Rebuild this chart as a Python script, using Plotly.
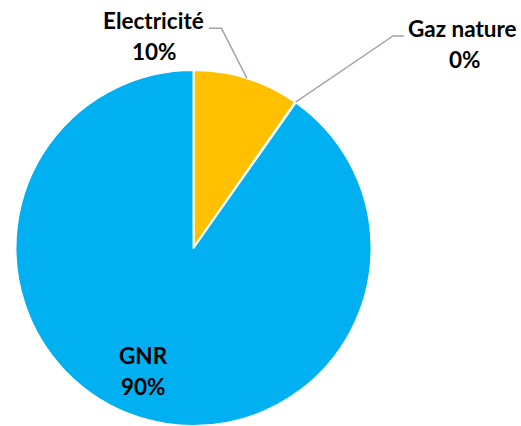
import numpy as np
import plotly.graph_objects as go

# Energy mix shares (%)
labels = ["Electricité", "Gaz nature", "GNR"]
values = [9.7, 0.05, 90.25]
colors = ["#FFC000", "#A5A5A5", "#00B0F0"]

W, H = 521, 426
CX, CY, R = 193.5, 248.0, 178.0  # pie centre / radius in pixels
FONT = dict(family="Lato", size=22.5, color="#000000")
LEADER = dict(color="#A6A6A6", width=1.5)


def px(x):
    return x / W


def py(y):
    return 1 - y / H


fig = go.Figure(
    go.Pie(
        labels=labels,
        values=values,
        sort=False,
        direction="clockwise",
        rotation=0,
        textinfo="none",
        hoverinfo="label+percent",
        marker=dict(colors=colors, line=dict(color="#FFFFFF", width=2)),
        domain=dict(x=[px(CX - R), px(CX + R)], y=[py(CY + R), py(CY - R)]),
        showlegend=False,
    )
)

# slice mid-angles (clockwise from 12 o'clock) derived from the values
shares = np.array(values) / np.sum(values)
starts = np.concatenate([[0], np.cumsum(shares)[:-1]])
mids = (starts + shares / 2) * 2 * np.pi
edge = {lab: (CX + R * np.sin(a), CY - R * np.cos(a)) for lab, a in zip(labels, mids)}

# label placement: name centre, percent centre, leader elbow (pixels)
layout_pos = {
    "Electricité": dict(name=(153, 20.5), pct=(154.5, 51.5), leader=[(209, 28.3), (221.5, 28.3)]),
    "Gaz nature": dict(name=(462.5, 29), pct=(464.5, 59), leader=[(404, 36), (393, 36)]),
    "GNR": dict(name=(143.5, 355.5), pct=(143.5, 386), leader=None),
}

annotations = []
shapes = []
for lab, share in zip(labels, shares):
    pos = layout_pos[lab]
    for txt, (x, y) in ((lab, pos["name"]), (f"{share:.0%}", pos["pct"])):
        annotations.append(
            dict(
                text=f"<b>{txt}</b>",
                x=px(x), y=py(y), xref="paper", yref="paper",
                xanchor="center", yanchor="middle",
                showarrow=False, font=FONT,
            )
        )
    if pos["leader"]:
        pts = pos["leader"] + [edge[lab]]
        path = "M " + " L ".join(f"{px(x):.5f},{py(y):.5f}" for x, y in pts)
        shapes.append(dict(type="path", path=path, xref="paper", yref="paper", line=LEADER))

fig.update_layout(
    width=W,
    height=H,
    margin=dict(l=0, r=0, t=0, b=0),
    paper_bgcolor="#FFFFFF",
    plot_bgcolor="#FFFFFF",
    annotations=annotations,
    shapes=shapes,
)

fig.write_html("out.html")
